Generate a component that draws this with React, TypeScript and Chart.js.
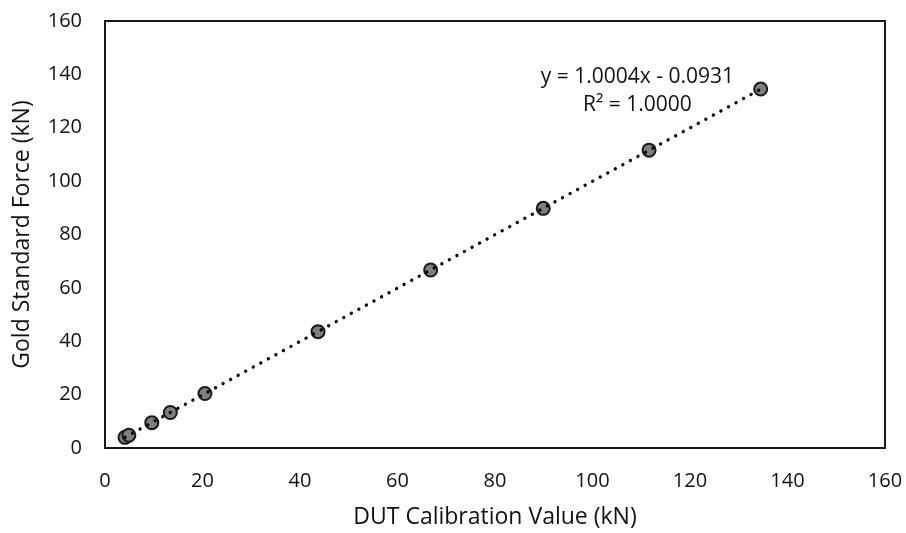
import { useEffect, useRef } from "react";
import { Chart, registerables } from "chart.js";

Chart.register(...registerables);

// DUT calibration readings (kN) and matching gold-standard forces (kN)
const calibrationValues = [4.1, 4.9, 9.6, 13.4, 20.5, 43.7, 66.8, 89.9, 111.6, 134.5];
const goldStandardForces = [4.0, 4.8, 9.5, 13.3, 20.4, 43.6, 66.7, 89.8, 111.6, 134.5];

// Linear trendline reported on the chart
const trendSlope = 1.0004;
const trendIntercept = -0.0931;
const trendR2 = 1.0;

const axisMin = 0;
const axisMax = 160;
const axisStep = 20;

const xTitle = "DUT Calibration Value (kN)";
const yTitle = "Gold Standard Force (kN)";

const FONT = "'Open Sans', 'DejaVu Sans', sans-serif";
const TEXT_COLOR = "#111111";

const equationLabel = `y = ${trendSlope.toFixed(4)}x - ${Math.abs(trendIntercept).toFixed(4)}`;
const r2Label = `R² = ${trendR2.toFixed(4)}`;

export default function App() {
  const canvasRef = useRef<HTMLCanvasElement | null>(null);

  useEffect(() => {
    const canvas = canvasRef.current;
    if (!canvas) return;

    const xMin = Math.min(...calibrationValues);
    const xMax = Math.max(...calibrationValues);
    const trendPoints = [xMin, xMax].map((x) => ({ x, y: trendSlope * x + trendIntercept }));

    // Black frame around the plot area
    const plotFrame = {
      id: "plotFrame",
      beforeDatasetsDraw(chart: any) {
        const { ctx, chartArea } = chart;
        ctx.save();
        ctx.strokeStyle = "#1a1a1a";
        ctx.lineWidth = 2;
        ctx.strokeRect(chartArea.left, chartArea.top, chartArea.right - chartArea.left, chartArea.bottom - chartArea.top);
        ctx.restore();
      },
    };

    // Trendline equation and R² label
    const equationText = {
      id: "equationText",
      afterDatasetsDraw(chart: any) {
        const { ctx, scales } = chart;
        const cx = scales.x.getPixelForValue(109.2);
        const cy = scales.y.getPixelForValue(138.9);
        ctx.save();
        ctx.fillStyle = TEXT_COLOR;
        ctx.font = `21px ${FONT}`;
        ctx.textAlign = "center";
        ctx.textBaseline = "middle";
        ctx.fillText(equationLabel, cx, cy);
        ctx.fillText(r2Label, cx, cy + 28);
        ctx.restore();
      },
    };

    const chart = new Chart(canvas, {
      type: "scatter",
      data: {
        datasets: [
          {
            type: "line",
            label: "Linear trend",
            data: trendPoints,
            borderColor: "#000000",
            borderWidth: 3.3,
            borderDash: [0.1, 8.5],
            borderCapStyle: "round",
            pointRadius: 0,
            fill: false,
            showLine: true,
          } as any,
          {
            label: "Calibration points",
            data: calibrationValues.map((x, i) => ({ x, y: goldStandardForces[i] })),
            backgroundColor: "#7f7f7f",
            borderColor: "#1a1a1a",
            borderWidth: 2,
            pointRadius: 6.5,
          },
        ],
      },
      plugins: [plotFrame, equationText],
      options: {
        animation: false,
        responsive: true,
        maintainAspectRatio: false,
        layout: { autoPadding: false, padding: { left: 0, top: 21, right: 21, bottom: 0 } },
        plugins: {
          legend: { display: false },
          tooltip: { enabled: false },
        },
        scales: {
          x: {
            type: "linear",
            min: axisMin,
            max: axisMax,
            grid: { display: false, drawTicks: true, tickLength: 21 },
            border: { display: false },
            ticks: {
              stepSize: axisStep,
              padding: 0,
              color: TEXT_COLOR,
              font: { family: FONT, size: 20 },
            },
            title: {
              display: true,
              text: xTitle,
              color: TEXT_COLOR,
              font: { family: FONT, size: 23 },
              padding: { top: 0, bottom: 2 },
            },
            afterFit(scale: any) {
              scale.height = 85;
            },
          },
          y: {
            type: "linear",
            min: axisMin,
            max: axisMax,
            grid: { display: false, drawTicks: true, tickLength: 23 },
            border: { display: false },
            ticks: {
              stepSize: axisStep,
              padding: 0,
              color: TEXT_COLOR,
              font: { family: FONT, size: 20 },
            },
            title: {
              display: true,
              text: yTitle,
              color: TEXT_COLOR,
              font: { family: FONT, size: 23 },
              padding: { top: 9, bottom: 0 },
            },
            afterFit(scale: any) {
              scale.width = 105;
            },
          },
        },
      },
    });

    return () => chart.destroy();
  }, []);

  return (
    <div style={{ position: "fixed", left: 0, top: 0, width: 906, height: 533, background: "#ffffff" }}>
      <canvas ref={canvasRef} />
    </div>
  );
}
